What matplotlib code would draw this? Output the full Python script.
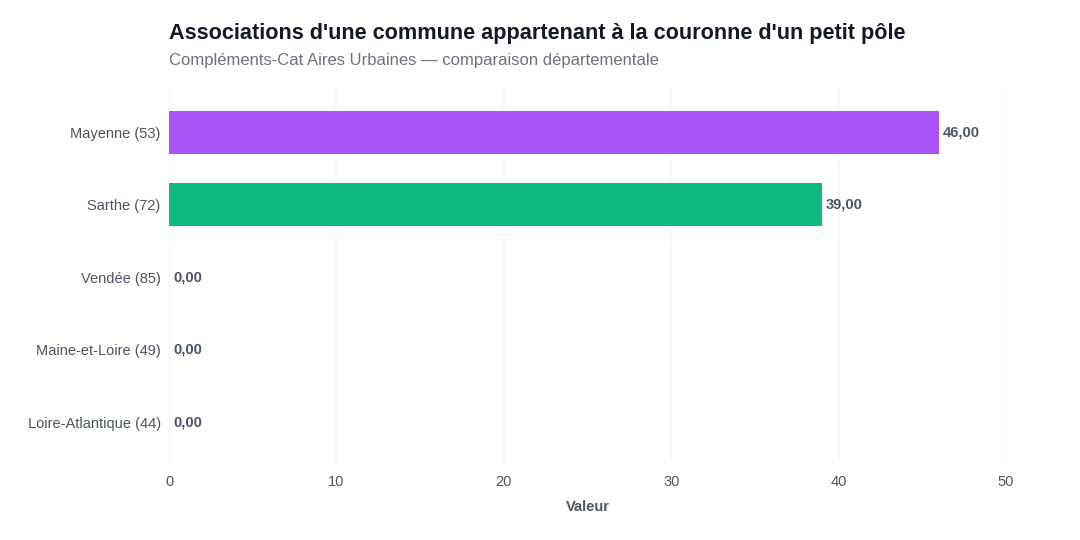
import matplotlib
matplotlib.use("Agg")
import matplotlib.pyplot as plt

plt.rcParams["font.family"] = ["Liberation Sans", "DejaVu Sans"]

# data
departements = ["Mayenne (53)", "Sarthe (72)", "Vendée (85)", "Maine-et-Loire (49)", "Loire-Atlantique (44)"]
valeurs = [46.0, 39.0, 0.0, 0.0, 0.0]
couleurs = ["#a855f7", "#10b981", "#3b82f6", "#f59e0b", "#ef4444"]
ticks_x = [0, 10, 20, 30, 40, 50]

fig = plt.figure(figsize=(10.8, 5.4), dpi=100)
ax = fig.add_axes([169 / 1080, 1 - 462 / 540, (1006 - 169) / 1080, (462 - 88) / 540])

ypos = list(range(len(departements)))
ax.barh(ypos, valeurs, height=0.59, color=couleurs, zorder=2)

for y, v in zip(ypos, valeurs):
    ax.text(v + 0.25, y, f"{v:.2f}".replace(".", ","), va="center", ha="left",
            fontsize=10.5, fontweight="bold", color="#475569", zorder=3)

ax.set_xlim(0, 50)
ax.set_ylim(4.55, -0.61)
ax.set_yticks(ypos)
ax.set_yticklabels(departements)
ax.set_xticks(ticks_x)
ax.tick_params(axis="both", length=0, colors="#4b5563", labelsize=10.5)
ax.tick_params(axis="x", pad=9)
ax.tick_params(axis="y", pad=6)

ax.grid(axis="x", color="#f1f5f9", linewidth=1.2, zorder=0)
for s in ax.spines.values():
    s.set_visible(False)

ax.set_xlabel("Valeur", fontsize=10.5, fontweight="bold", color="#4b5563", labelpad=8)

fig.text(169 / 1080, 1 - 34 / 540, "Associations d'une commune appartenant à la couronne d'un petit pôle",
         fontsize=15.6, fontweight="bold", color="#111827", va="center", ha="left")
fig.text(169 / 1080, 1 - 61 / 540, "Compléments-Cat Aires Urbaines — comparaison départementale",
         fontsize=12, color="#6b7280", va="center", ha="left")

fig.savefig("out.png", dpi=100, facecolor="white")
